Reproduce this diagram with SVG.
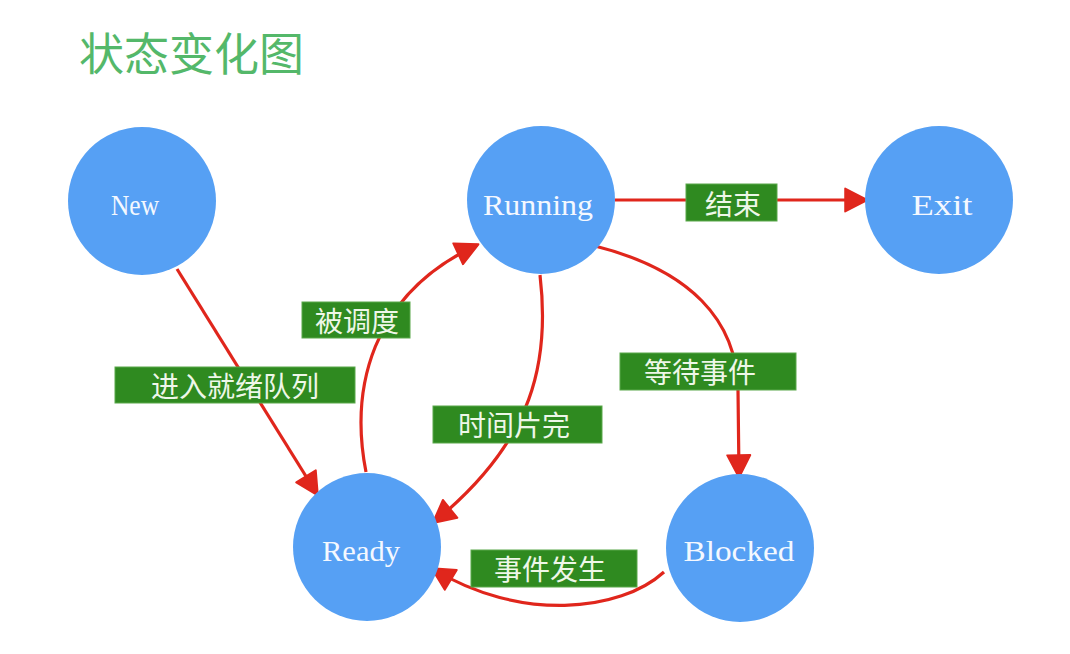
<svg xmlns="http://www.w3.org/2000/svg" width="1070" height="654" viewBox="0 0 1070 654">
<style>
.node{fill:#56a0f4;}
.nt{fill:#f4f8ff;font-family:"Liberation Serif",serif;font-size:30px;text-anchor:middle;dominant-baseline:central;}
.edge{fill:none;stroke:#e0261c;stroke-width:3.2;}
.lb{fill:#2f8a20;stroke:#5aa84a;stroke-width:1;}
.lt{fill:#eef7e8;font-family:"Noto Sans CJK SC","Noto Sans",sans-serif;font-weight:400;font-size:28px;text-anchor:middle;dominant-baseline:central;}
.title{fill:#54b86a;font-family:"Noto Sans CJK SC",sans-serif;font-weight:400;font-size:45px;}
</style>
<defs>
<marker id="ah" markerWidth="8" markerHeight="8" refX="7" refY="4" orient="auto" markerUnits="strokeWidth">
<path d="M0.5,0.4 L7.5,4 L0.5,7.6 Z" fill="#e0261c" stroke="#e0261c" stroke-width="0.6" stroke-linejoin="round"/>
</marker>
</defs>
<rect width="1070" height="654" fill="#ffffff"/>
<text class="title" x="79" y="71">状态变化图</text>

<g id="connectors">
<path class="edge" d="M177,269 L317,494" marker-end="url(#ah)"/>
<path class="edge" d="M366,472 C350,390 370,295 477,245" marker-end="url(#ah)"/>
<path class="edge" d="M540,275 C550,360 535,440 434,522" marker-end="url(#ah)"/>
<path class="edge" d="M595,246 C690,270 737,320 738,390 L739,476" marker-end="url(#ah)"/>
<path class="edge" d="M664,572 C620,612 520,622 433,569" marker-end="url(#ah)"/>
<path class="edge" d="M615,200 L866,200" marker-end="url(#ah)"/>
</g>

<g id="node-new"><circle class="node" cx="142" cy="201" r="74"/><text class="nt" x="135" y="204" textLength="48" lengthAdjust="spacingAndGlyphs">New</text></g>
<g id="node-running"><circle class="node" cx="541" cy="200" r="74"/><text class="nt" x="538" y="204" textLength="110" lengthAdjust="spacingAndGlyphs">Running</text></g>
<g id="node-exit"><circle class="node" cx="939" cy="200" r="74"/><text class="nt" x="942" y="204" textLength="61" lengthAdjust="spacingAndGlyphs">Exit</text></g>
<g id="node-ready"><circle class="node" cx="367" cy="547" r="74"/><text class="nt" x="361" y="550" textLength="78" lengthAdjust="spacingAndGlyphs">Ready</text></g>
<g id="node-blocked"><circle class="node" cx="740" cy="548" r="74"/><text class="nt" x="739" y="550" textLength="111" lengthAdjust="spacingAndGlyphs">Blocked</text></g>

<g id="label-end"><rect class="lb" x="686" y="184" width="91" height="37"/><text class="lt" x="733" y="203">结束</text></g>
<g id="label-sched"><rect class="lb" x="302" y="302" width="108" height="36"/><text class="lt" x="357" y="320">被调度</text></g>
<g id="label-enter"><rect class="lb" x="115" y="367" width="240" height="36"/><text class="lt" x="235" y="385">进入就绪队列</text></g>
<g id="label-slice"><rect class="lb" x="433" y="406" width="169" height="37"/><text class="lt" x="514" y="424">时间片完</text></g>
<g id="label-wait"><rect class="lb" x="620" y="353" width="176" height="37"/><text class="lt" x="700" y="371">等待事件</text></g>
<g id="label-occur"><rect class="lb" x="471" y="550" width="166" height="37"/><text class="lt" x="550" y="568">事件发生</text></g>
</svg>
